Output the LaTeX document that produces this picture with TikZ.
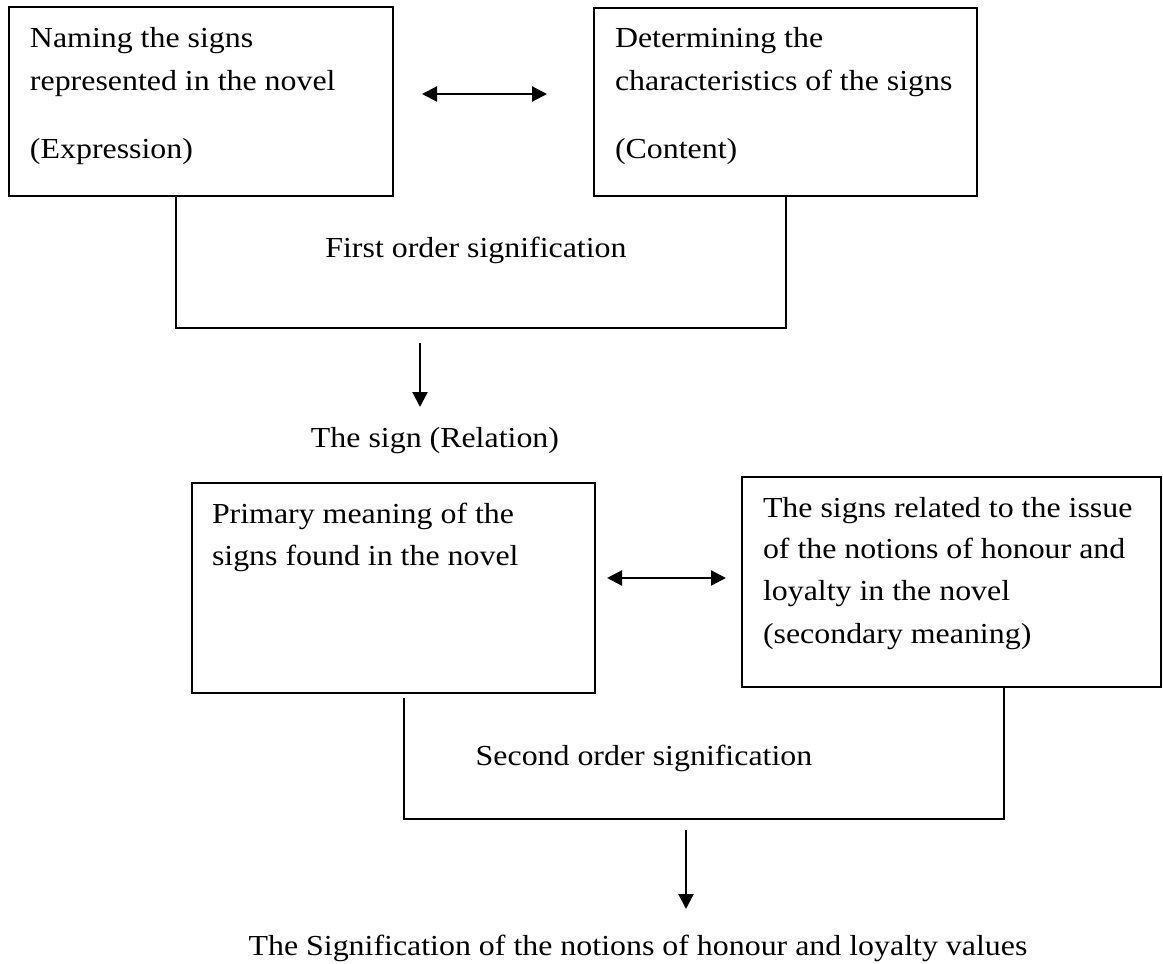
\documentclass[tikz,border=0pt]{standalone}
\usepackage{fontspec}
\setmainfont[FakeStretch=1.1]{Liberation Serif}
\usetikzlibrary{arrows.meta,calc}
\begin{document}
\begin{tikzpicture}[x=1pt,y=-1pt,
  line width=2pt,
  boxnode/.style={draw,line width=2pt,inner sep=0pt,outer sep=0pt,anchor=north west},
  txt/.style={inner sep=0pt,outer sep=0pt,anchor=base west,font=\fontsize{29}{42}\selectfont},
  ctxt/.style={inner sep=0pt,outer sep=0pt,anchor=base,font=\fontsize{29}{42}\selectfont},
  tip/.style={-{Triangle[width=15pt,length=15pt]}},
  dtip/.style={{Triangle[width=15pt,length=15pt]}-{Triangle[width=15pt,length=15pt]}},
  conn/.style={line width=2.2pt}
]
\useasboundingbox (0,0) rectangle (1163,964);
\fill[white] (0,0) rectangle (1163,964);

% boxes
\node[boxnode,minimum width=384pt,minimum height=189pt] (b1) at (9,7) {};
\node[boxnode,minimum width=383pt,minimum height=188pt] (b2) at (594,8) {};
\node[boxnode,minimum width=403pt,minimum height=210pt] (b3) at (192,483) {};
\node[boxnode,minimum width=419pt,minimum height=210pt] (b4) at (742,477) {};

% box texts
\node[txt] (t1a) at (30,47) {Naming the signs};
\node[txt] (t1b) at (30,90) {represented in the novel};
\node[txt] (t1c) at (30,158) {(Expression)};
\node[txt] (t2a) at (615,47) {Determining the};
\node[txt] (t2b) at (615,90) {characteristics of the signs};
\node[txt] (t2c) at (615,158) {(Content)};
\node[txt] (t3a) at (212,523) {Primary meaning of the};
\node[txt] (t3b) at (212,565) {signs found in the novel};
\node[txt] (t4a) at (763,517) {The signs related to the issue};
\node[txt] (t4b) at (763,558) {of the notions of honour and};
\node[txt] (t4c) at (763,600) {loyalty in the novel};
\node[txt] (t4d) at (763,643) {(secondary meaning)};

% free labels
\node[ctxt] (first) at (476,257) {First order signification};
\node[ctxt] (sign) at (435,447) {The sign (Relation)};
\node[ctxt] (second) at (644,765) {Second order signification};
\node[ctxt] (final) at (638,955) {The Signification of the notions of honour and loyalty values};

% brackets
\coordinate (br1l) at (176,328);
\coordinate (br1r) at (786,328);
\draw[line width=2pt] (b1.south -| br1l) -- (br1l) -- (br1r) -- (b2.south -| br1r);
\coordinate (br2t) at (404,698);
\coordinate (br2l) at (404,819);
\coordinate (br2r) at (1004,819);
\draw[line width=2pt] (br2t) -- (br2l) -- (br2r) -- (b4.south -| br2r);

% arrows
\coordinate (d1a) at (422,94);
\coordinate (d1b) at (547,94);
\draw[conn,dtip] (d1a) -- (d1b);
\coordinate (d2a) at (607,578);
\coordinate (d2b) at (726,578);
\draw[conn,dtip] (d2a) -- (d2b);
\coordinate (a1s) at (420,343);
\coordinate (a1e) at (420,407);
\draw[conn,tip] (a1s) -- (a1e);
\coordinate (a3s) at (686,830);
\coordinate (a3e) at (686,909);
\draw[conn,tip] (a3s) -- (a3e);
\end{tikzpicture}
\end{document}
